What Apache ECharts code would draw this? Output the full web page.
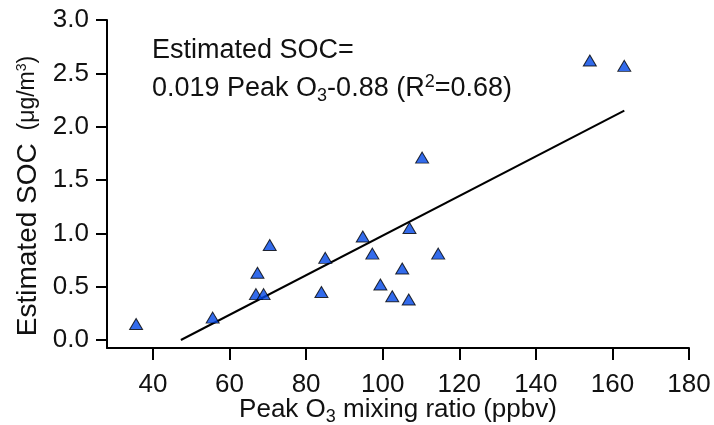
<!DOCTYPE html>
<html>
<head>
<meta charset="utf-8">
<script src="https://cdn.jsdelivr.net/npm/echarts@6/dist/echarts.min.js"></script>
<style>html,body{margin:0;padding:0;background:#fff}#c{width:714px;height:425px}</style>
</head>
<body>
<div id="c"></div>
<script>
// Data
var peakO3 = [35.6, 55.6, 67.3, 66.9, 68.9, 70.5, 85.0, 84.0, 94.8, 97.3, 107.0, 114.5, 105.1, 99.4, 102.5, 106.8, 110.3, 154.1, 163.1];
var soc    = [0.15, 0.21, 0.63, 0.43, 0.43, 0.89, 0.77, 0.45, 0.97, 0.81, 1.05, 0.81, 0.67, 0.52, 0.41, 0.38, 1.71, 2.62, 2.57];
var fitX = [47.3, 163.1];
var fitY = [0.0, 2.15];
var xTicks = [40, 60, 80, 100, 120, 140, 160, 180];
var yTicks = [0, 0.5, 1, 1.5, 2, 2.5, 3];

var FONT = 'Liberation Sans, Arial, sans-serif';
var chart = echarts.init(document.getElementById('c'), null, {renderer: 'canvas'});
var pts = peakO3.map(function (x, i) { return [x, soc[i]]; });
var fit = fitX.map(function (x, i) { return [x, fitY[i]]; });

chart.setOption({
  animation: false,
  backgroundColor: '#fff',
  grid: {left: 107, right: 25, top: 20, bottom: 77, containLabel: false, outerBoundsMode: 'none'},
  xAxis: {
    type: 'value', min: 28, max: 180,
    axisLine: {show: true, onZero: false, lineStyle: {color: '#000', width: 2}},
    axisTick: {show: true, length: 12, lineStyle: {color: '#000', width: 2}, customValues: xTicks},
    axisLabel: {color: '#111', fontSize: 26, fontFamily: FONT, margin: 24, customValues: xTicks},
    splitLine: {show: false},
    name: '{n|Peak O}{s|3}{n| mixing ratio (ppbv)}',
    nameLocation: 'middle', nameGap: 46, nameMoveOverlap: false,
    nameTextStyle: {
      rich: {
        n: {fontSize: 26, fontFamily: FONT, color: '#111'},
        s: {fontSize: 18, fontFamily: FONT, color: '#111', padding: [14, 0, 0, 0]}
      }
    }
  },
  yAxis: {
    type: 'value', min: -0.075, max: 3.0,
    axisLine: {show: true, onZero: false, lineStyle: {color: '#000', width: 2}},
    axisTick: {show: true, length: 11, lineStyle: {color: '#000', width: 2}, customValues: yTicks},
    axisLabel: {color: '#111', fontSize: 26, fontFamily: FONT, margin: 18, customValues: yTicks,
      formatter: function (v) { return v.toFixed(1); }},
    splitLine: {show: false},
    name: '{n|Estimated SOC}{m|  (μg/m}{p|3}{m|)}',
    nameLocation: 'middle', nameGap: 64, nameRotate: 90,
    nameTextStyle: {
      padding: [0, 24, 0, 0],
      rich: {
        n: {fontSize: 28, fontFamily: FONT, color: '#111'},
        m: {fontSize: 23, fontFamily: FONT, color: '#111'},
        p: {fontSize: 14, fontFamily: FONT, color: '#111', padding: [0, 0, 12, 0]}
      }
    }
  },
  graphic: [
    {type: 'text', left: 152, top: 37, style: {text: 'Estimated SOC=', font: '27px ' + FONT, fill: '#111'}},
    {type: 'text', left: 152, top: 73, style: {
      text: '{n|0.019 Peak O}{s|3}{n|-0.88 (R}{p|2}{n|=0.68)}',
      rich: {
        n: {fontSize: 27, fontFamily: FONT, fill: '#111'},
        s: {fontSize: 18, fontFamily: FONT, fill: '#111', padding: [14, 0, 0, 0]},
        p: {fontSize: 18, fontFamily: FONT, fill: '#111', padding: [0, 0, 14, 0]}
      }
    }}
  ],
  series: [
    {type: 'line', data: fit, showSymbol: false, symbol: 'none',
      lineStyle: {color: '#000', width: 2}, z: 2},
    {type: 'scatter', data: pts, symbol: 'triangle', symbolSize: [13, 11],
      itemStyle: {color: '#0046e6', borderColor: '#000', borderWidth: 1}, z: 3}
  ]
});
</script>
</body>
</html>
